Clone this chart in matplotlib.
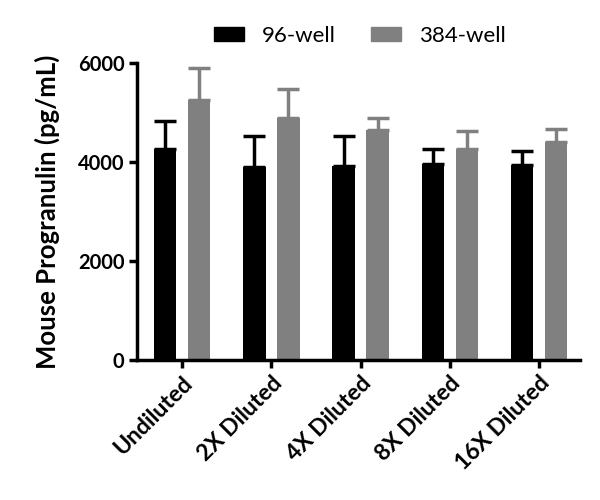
import numpy as np
import matplotlib.pyplot as plt
from matplotlib.patches import Patch

plt.rcParams['font.family'] = ['Lato', 'DejaVu Sans']

categories = ['Undiluted', '2X Diluted', '4X Diluted', '8X Diluted', '16X Diluted']
well96 = [4263, 3899, 3912, 3960, 3939]
well96_err = [570, 620, 620, 310, 290]
well384 = [5253, 4889, 4646, 4263, 4404]
well384_err = [640, 590, 240, 360, 260]

x = np.arange(len(categories))
w = 0.253
off = 0.19

fig = plt.figure(figsize=(6, 5), dpi=100)
ax = fig.add_axes([0.228, 0.28, 0.739, 0.594])

ax.bar(x - off, well96, w, color='black', zorder=2)
ax.bar(x + off, well384, w, color='#808080', zorder=2)
ax.errorbar(x - off, well96, yerr=[np.zeros(5), well96_err], fmt='none',
            ecolor='black', elinewidth=2.5, capsize=8, capthick=2.5, zorder=1)
ax.errorbar(x + off, well384, yerr=[np.zeros(5), well384_err], fmt='none',
            ecolor='#808080', elinewidth=2.5, capsize=8, capthick=2.5, zorder=1)

ax.set_xlim(-0.506, 4.46)
ax.set_ylim(0, 6000)
ax.set_yticks([0, 2000, 4000, 6000])
ax.set_xticks(x)
ax.set_xticklabels(categories, rotation=45, ha='right', rotation_mode='anchor',
                   fontsize=16.5, fontweight='bold')
for lbl in ax.get_yticklabels():
    lbl.set_fontsize(14.5)
    lbl.set_fontweight('bold')
ax.set_ylabel('Mouse Progranulin (pg/mL)', fontsize=18.5, fontweight='bold', labelpad=13)

for s in ['top', 'right']:
    ax.spines[s].set_visible(False)
for s in ['left', 'bottom']:
    ax.spines[s].set_linewidth(2.5)
ax.tick_params(width=2.5, length=6, pad=3)

handles = [Patch(color='black'), Patch(color='#808080')]
fig.legend(handles, ['96-well', '384-well'], loc='center', bbox_to_anchor=(0.6, 0.928),
           ncol=2, frameon=False, fontsize=16, handlelength=1.35, handleheight=0.55,
           columnspacing=1.6, handletextpad=0.8)

fig.savefig('out.png', dpi=100)
